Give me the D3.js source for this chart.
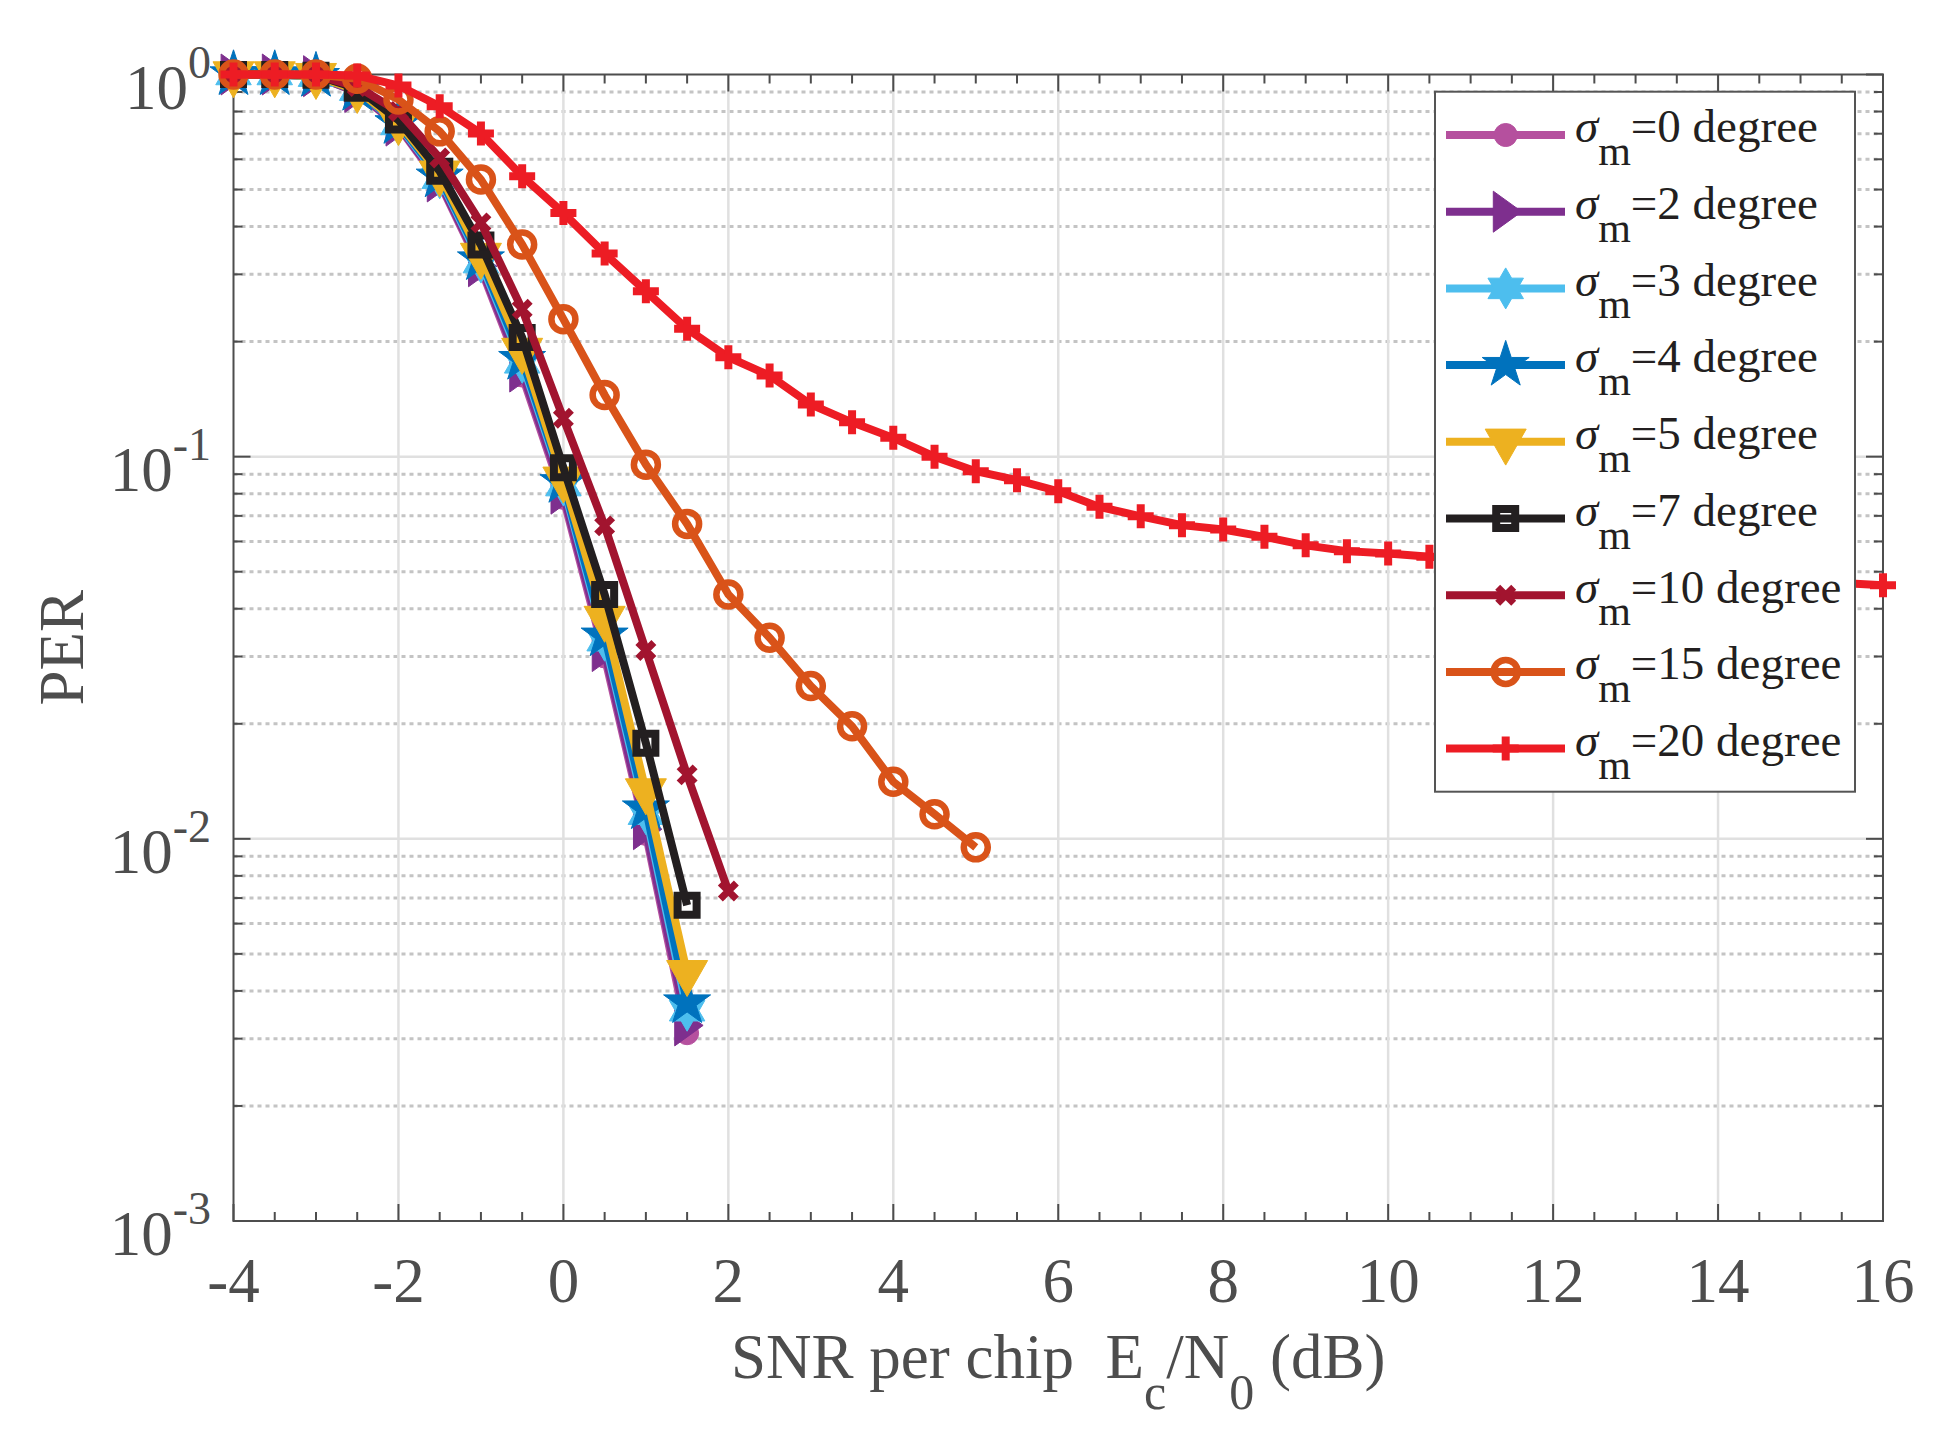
<!DOCTYPE html>
<html>
<head>
<meta charset="utf-8">
<script src="https://cdn.jsdelivr.net/npm/d3@7"></script>
<style>
  body { margin: 0; background: #fff; }
  svg { display: block; }
  text { font-family: "Liberation Serif", "Times New Roman", serif; white-space: pre; }
</style>
</head>
<body>
<svg id="chart" width="1947" height="1454"></svg>
<script>
// ---- data (PER vs SNR per chip) ----
const snrA = [-4, -3.5, -3, -2.5, -2, -1.5, -1, -0.5, 0, 0.5, 1, 1.5];
const snrB = [-4, -3.5, -3, -2.5, -2, -1.5, -1, -0.5, 0, 0.5, 1, 1.5, 2];
const snrC = [-4, -3.5, -3, -2.5, -2, -1.5, -1, -0.5, 0, 0.5, 1, 1.5, 2, 2.5, 3, 3.5, 4, 4.5, 5];
const snrD = [-4, -3.5, -3, -2.5, -2, -1.5, -1, -0.5, 0, 0.5, 1, 1.5, 2, 2.5, 3, 3.5, 4, 4.5, 5, 5.5,
              6, 6.5, 7, 7.5, 8, 8.5, 9, 9.5, 10, 10.5, 11, 11.5, 12, 12.5, 13, 13.5, 14, 14.5, 15, 15.5, 16];

const per0  = [1.0, 1.0, 0.99, 0.90, 0.73, 0.52, 0.31, 0.163, 0.078, 0.030, 0.0103, 0.0031];
const per2  = [1.0, 1.0, 0.99, 0.90, 0.735, 0.525, 0.315, 0.167, 0.080, 0.031, 0.0106, 0.00325];
const per3  = [1.0, 1.0, 0.99, 0.91, 0.74, 0.535, 0.322, 0.176, 0.084, 0.033, 0.0116, 0.00355];
const per4  = [1.0, 1.0, 0.99, 0.91, 0.745, 0.54, 0.328, 0.180, 0.0857, 0.034, 0.0120, 0.00373];
const per5  = [1.0, 1.0, 0.99, 0.91, 0.75, 0.55, 0.335, 0.189, 0.087, 0.0376, 0.0133, 0.00445];
const per7  = [1.0, 1.0, 0.995, 0.92, 0.76, 0.558, 0.358, 0.205, 0.0935, 0.0436, 0.0178, 0.0067];
const per10 = [1.0, 1.0, 0.995, 0.93, 0.80, 0.605, 0.409, 0.243, 0.126, 0.0659, 0.0311, 0.0147, 0.0073];
const per15 = [1.0, 1.0, 1.0, 0.975, 0.86, 0.71, 0.531, 0.359, 0.229, 0.145, 0.0953, 0.0667, 0.0436,
               0.0336, 0.0251, 0.0197, 0.0141, 0.0116, 0.0095];
const per20 = [1.0, 1.0, 1.0, 0.994, 0.936, 0.826, 0.701, 0.542, 0.434, 0.340, 0.271, 0.216, 0.182,
               0.163, 0.137, 0.123, 0.112, 0.100, 0.0916, 0.0868, 0.0812, 0.0739, 0.0698, 0.0662,
               0.0645, 0.0617, 0.0586, 0.0566, 0.0558, 0.0547, 0.0538, 0.053, 0.0522, 0.0512,
               0.0503, 0.0496, 0.0488, 0.0481, 0.0474, 0.0467, 0.0461];

const sigmaLabels = ['0', '2', '3', '4', '5', '7', '10', '15', '20'];
const seriesX = [snrA, snrA, snrA, snrA, snrA, snrA, snrB, snrC, snrD];
const seriesY = [per0, per2, per3, per4, per5, per7, per10, per15, per20];
const colors = ['#B5509E', '#7E2F8E', '#4DBEEE', '#0072BD', '#EDB120', '#231F20', '#A2142F', '#D95319', '#ED1C24'];
const markers = ['dot', 'triRight', 'hexagram', 'pentagram', 'triDown', 'square', 'cross', 'ring', 'plus'];

const xTicks = [-4, -2, 0, 2, 4, 6, 8, 10, 12, 14, 16];
const yTickExp = [0, -1, -2, -3];

// ---- layout ----
const margin = { left: 233.5, right: 1883, top: 74.5, bottom: 1221 };
const axisColor = '#4d4d4d';
const lineW = 8;

const svg = d3.select('#chart');
const x = d3.scaleLinear([-4, 16], [margin.left, margin.right]);
const y = d3.scaleLog([1e-3, 1], [margin.bottom, margin.top]);

// star outline helper (pentagram / hexagram)
function starPath(n, R, r) {
    const p = d3.path();
    for (let i = 0; i < 2 * n; i++) {
        const a = -Math.PI / 2 + i * Math.PI / n;
        const rad = i % 2 ? r : R;
        i ? p.lineTo(rad * Math.cos(a), rad * Math.sin(a)) : p.moveTo(rad * Math.cos(a), rad * Math.sin(a));
    }
    p.closePath();
    return p.toString();
}
const markerDef = {
    dot:       { d: d3.symbol(d3.symbolCircle, Math.PI * 11.5 * 11.5)(), filled: true },
    triRight:  { d: 'M-12.4,-20.5L16,0L-12.4,20.5Z', filled: true },
    hexagram:  { d: starPath(6, 20.5, 20.5 / Math.sqrt(3)), filled: true },
    pentagram: { d: starPath(5, 24.7, 24.7 * 0.382), filled: true },
    triDown:   { d: 'M-20.5,-12.7L20.5,-12.7L0,23.3Z', filled: true },
    square:    { d: 'M-9.5,-9.5H9.5V9.5H-9.5Z', filled: false, sw: 8 },
    cross:     { d: 'M-8,-8L8,8M-8,8L8,-8', filled: false, sw: 7 },
    ring:      { d: d3.symbol(d3.symbolCircle, Math.PI * 12 * 12)(), filled: false, sw: 6.5 },
    plus:      { d: 'M-13,0H13M0,-12V12', filled: false, sw: 8 }
};
function drawMarker(sel, kind, color) {
    const m = markerDef[kind];
    sel.append('path')
        .attr('d', m.d)
        .attr('fill', m.filled ? color : 'none')
        .attr('stroke', color)
        .attr('stroke-width', m.filled ? 1 : m.sw)
        .attr('stroke-linecap', 'butt');
}

// ---- grid ----
const grid = svg.append('g').attr('class', 'grid');
const minorVals = [];
for (let e = -3; e < 0; e++) for (let k = 2; k <= 9; k++) minorVals.push(k * Math.pow(10, e));
grid.selectAll('.minor').data(minorVals).join('line')
    .attr('class', 'minor')
    .attr('x1', margin.left).attr('x2', margin.right)
    .attr('y1', d => y(d)).attr('y2', d => y(d))
    .attr('stroke', '#c4c4c4').attr('stroke-width', 3).attr('stroke-dasharray', '4 4');
grid.selectAll('.majorY').data([1e-1, 1e-2]).join('line')
    .attr('class', 'majorY')
    .attr('x1', margin.left).attr('x2', margin.right)
    .attr('y1', d => y(d)).attr('y2', d => y(d))
    .attr('stroke', '#e0e0e0').attr('stroke-width', 2.5);
grid.selectAll('.majorX').data(xTicks.slice(1, -1)).join('line')
    .attr('class', 'majorX')
    .attr('x1', d => x(d)).attr('x2', d => x(d))
    .attr('y1', margin.top).attr('y2', margin.bottom)
    .attr('stroke', '#e0e0e0').attr('stroke-width', 2.5);

// ---- axes box + ticks ----
const axes = svg.append('g').attr('class', 'axes').attr('stroke', axisColor);
const xMinor = d3.range(-4, 16.01, 0.5);
xMinor.forEach(v => {
    const len = (Math.abs(v % 2) < 1e-9) ? 17 : 9;
    axes.append('line').attr('x1', x(v)).attr('x2', x(v)).attr('y1', margin.bottom).attr('y2', margin.bottom - len).attr('stroke-width', 2);
    axes.append('line').attr('x1', x(v)).attr('x2', x(v)).attr('y1', margin.top).attr('y2', margin.top + len).attr('stroke-width', 2);
});
const yAll = minorVals.concat([1, 1e-1, 1e-2, 1e-3]);
yAll.forEach(v => {
    const major = yTickExp.some(e => Math.abs(v - Math.pow(10, e)) < 1e-12);
    const len = major ? 17 : 9;
    axes.append('line').attr('x1', margin.left).attr('x2', margin.left + len).attr('y1', y(v)).attr('y2', y(v)).attr('stroke-width', 2);
    axes.append('line').attr('x1', margin.right).attr('x2', margin.right - len).attr('y1', y(v)).attr('y2', y(v)).attr('stroke-width', 2);
});
axes.append('rect')
    .attr('x', margin.left).attr('y', margin.top)
    .attr('width', margin.right - margin.left).attr('height', margin.bottom - margin.top)
    .attr('fill', 'none').attr('stroke-width', 2);

// tick labels
svg.append('g').selectAll('text').data(xTicks).join('text')
    .attr('x', d => x(d)).attr('y', margin.bottom + 81)
    .attr('text-anchor', 'middle').attr('font-size', 63).attr('fill', axisColor)
    .text(d => d);
const yLab = svg.append('g').selectAll('text').data(yTickExp).join('text')
    .attr('x', 211).attr('y', d => y(Math.pow(10, d)) + 34)
    .attr('text-anchor', 'end').attr('fill', axisColor);
yLab.append('tspan').attr('font-size', 63).text('10');
yLab.append('tspan').attr('font-size', 46).attr('dy', -31).text(d => d);

// axis titles
svg.append('text')
    .attr('transform', `translate(82.7,${(margin.top + margin.bottom) / 2}) rotate(-90)`)
    .attr('text-anchor', 'middle').attr('font-size', 63).attr('fill', axisColor)
    .text('PER');
const xt = svg.append('text')
    .attr('x', (margin.left + margin.right) / 2).attr('y', 1378)
    .attr('text-anchor', 'middle').attr('font-size', 63).attr('fill', axisColor);
xt.append('tspan').text('SNR per chip  E');
xt.append('tspan').attr('font-size', 50).attr('dy', 31).text('c');
xt.append('tspan').attr('dy', -31).text('/N');
xt.append('tspan').attr('font-size', 50).attr('dy', 31).text('0');
xt.append('tspan').attr('dy', -31).text(' (dB)');

// ---- series ----
const line = d3.line().x(d => x(d[0])).y(d => y(d[1]));
const plot = svg.append('g').attr('class', 'series');
sigmaLabels.forEach((lab, i) => {
    const pts = d3.zip(seriesX[i], seriesY[i]);
    const g = plot.append('g').attr('class', 'sigma' + lab);
    g.append('path').datum(pts)
        .attr('d', line)
        .attr('fill', 'none').attr('stroke', colors[i])
        .attr('stroke-width', lineW).attr('stroke-linejoin', 'miter');
    g.selectAll('.mk').data(pts).join('g')
        .attr('class', 'mk')
        .attr('transform', d => `translate(${x(d[0])},${y(d[1])})`)
        .each(function () { drawMarker(d3.select(this), markers[i], colors[i]); });
});

// ---- legend ----
const leg = svg.append('g').attr('class', 'legend');
leg.append('rect')
    .attr('x', 1435).attr('y', 91.7).attr('width', 420).attr('height', 700)
    .attr('fill', '#fff').attr('stroke', '#555').attr('stroke-width', 2);
const rowY = i => 135 + i * 76.7;
sigmaLabels.forEach((lab, i) => {
    const r = leg.append('g').attr('transform', `translate(0,${rowY(i)})`);
    r.append('line').attr('x1', 1446).attr('x2', 1565).attr('y1', 0).attr('y2', 0)
        .attr('stroke', colors[i]).attr('stroke-width', lineW);
    drawMarker(r.append('g').attr('transform', 'translate(1505.7,0)'), markers[i], colors[i]);
    const t = r.append('text').attr('x', 1575).attr('y', 7.3).attr('fill', '#231F20').attr('font-size', 47);
    t.append('tspan').attr('font-style', 'italic').text('σ');
    t.append('tspan').attr('font-size', 42).attr('dy', 22.7).text('m');
    t.append('tspan').attr('dy', -22.7).text(`=${lab} degree`);
});
</script>
</body>
</html>
